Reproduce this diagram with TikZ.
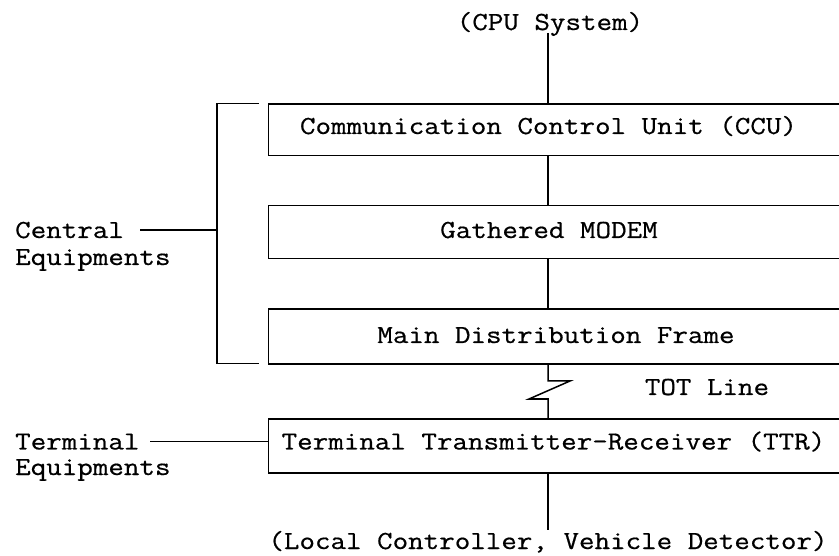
\documentclass[tikz,border=0pt]{standalone}
\usepackage{fontspec}
\setmonofont[FakeStretch=1.16,FakeBold=0.6]{Latin Modern Mono}
\begin{document}
\begin{tikzpicture}[x=1pt,y=-1pt,
  wire/.style={line width=1.5pt, line join=miter},
  unit/.style={draw, line width=1.5pt, rectangle, anchor=north west,
    minimum width=640pt, inner sep=0pt},
  lbl/.style={inner sep=0pt, anchor=base, font=\ttfamily\fontsize{26}{26}\selectfont},
  lblw/.style={lbl, anchor=base west}]
  \useasboundingbox (0,0) rectangle (839,556);
  \clip (0,0) rectangle (839,556);

  % vertical signal path
  \coordinate (spine) at (548,0);

  % boxes (open to the right edge)
  \node[unit, minimum height=51.5pt] (ccu)   at (267.5,103.5) {};
  \node[unit, minimum height=53pt]   (modem) at (267.5,205) {};
  \node[unit, minimum height=55pt]   (mdf)   at (267.5,308.5) {};
  \node[unit, minimum height=54pt]   (ttr)   at (267.5,418) {};

  % box captions
  \node[lbl] (ccut)   at (548.5,134) {Communication Control Unit (CCU)};
  \node[lbl] (modemt) at (549,238)   {Gathered MODEM};
  \node[lbl] (mdft)   at (556,343)   {Main Distribution Frame};
  \node[lbl] (ttrt)   at (553.5,449.5) {Terminal Transmitter-Receiver (TTR)};

  % end points
  \node[lbl] (cpu) at (550,30)  {(CPU System)};
  \node[lbl] (lc)  at (548,549) {(Local Controller, Vehicle Detector)};
  \node[lbl] (tot) at (707,395) {TOT Line};

  % side labels
  \node[lblw] (central)  at (15,238)   {Central};
  \node[lblw] (centralq) at (15,265)   {Equipments};
  \node[lblw] (term)     at (15,449.5) {Terminal};
  \node[lblw] (termq)    at (15,475)   {Equipments};

  % connections along the spine
  \coordinate (cputop) at (548,33);
  \draw[wire] (cputop) -- (ccu.north -| spine);
  \draw[wire] (ccu.south -| spine) -- (modem.north -| spine);
  \draw[wire] (modem.south -| spine) -- (mdf.north -| spine);
  \coordinate (lcbot) at (548,530);
  \draw[wire] (ttr.south -| spine) -- (lcbot);

  % line break symbol for the TOT line
  \draw[wire] (mdf.south -| spine) -- (548,381) -- (570,381)
    -- (529,399) -- (548,399) -- (ttr.north -| spine);

  % bracket grouping the central equipments
  \coordinate (brtop) at (259,103.5);
  \coordinate (brbot) at (259,363.5);
  \coordinate (brx) at (217,0);
  \draw[wire] (brtop) -- (brtop -| brx) -- (brbot -| brx) -- (brbot);

  % leader lines from the side labels
  \coordinate (ctip) at (140,230);
  \draw[wire] (ctip) -- (ctip -| brx);
  \coordinate (ttip) at (150,441.5);
  \draw[wire] (ttip) -- (ttip -| ttr.west);
\end{tikzpicture}
\end{document}
